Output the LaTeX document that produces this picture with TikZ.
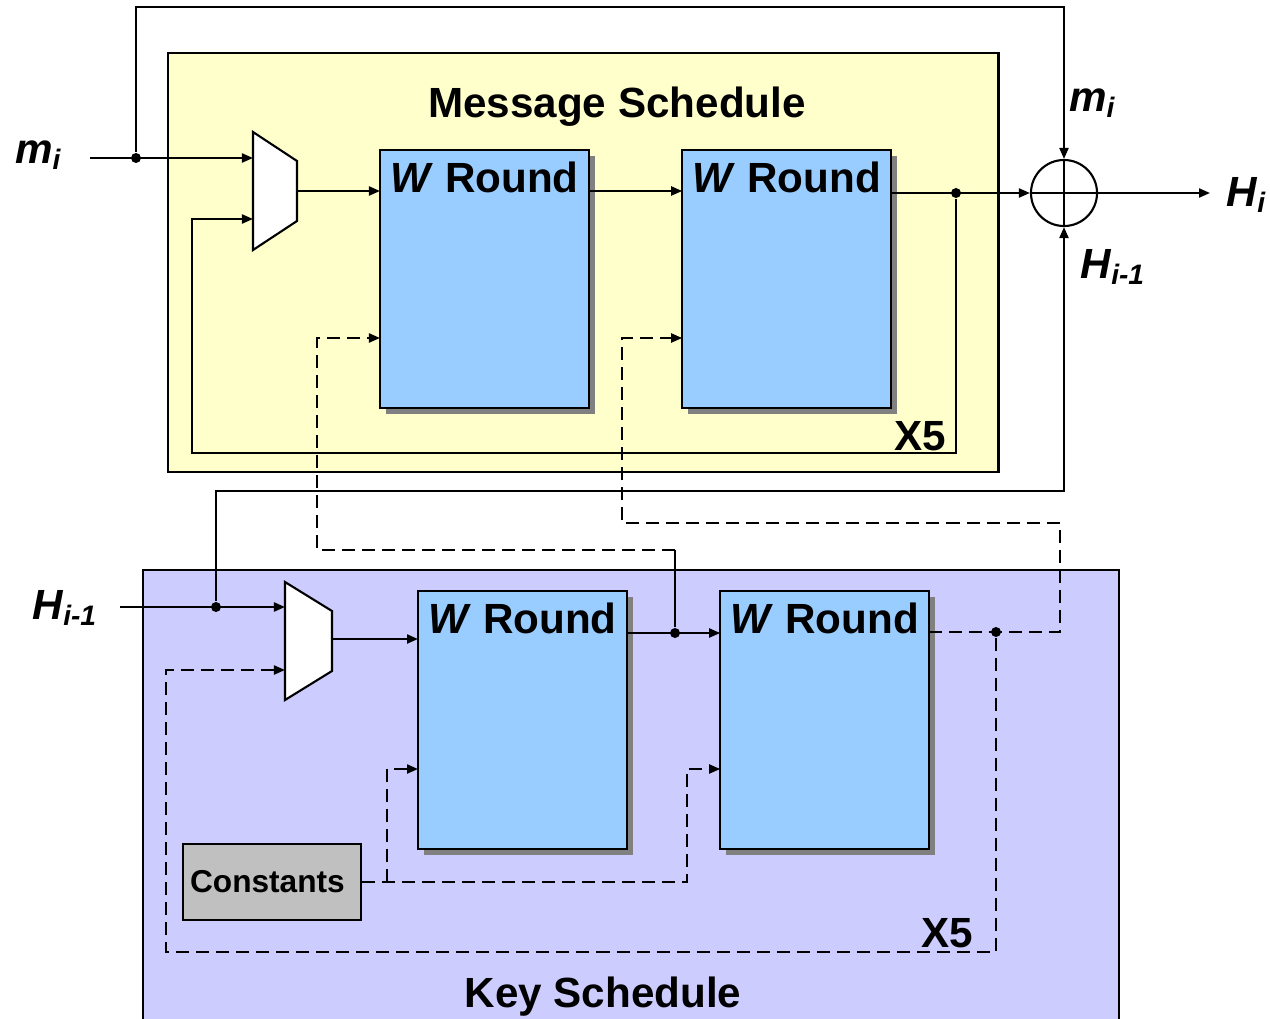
\documentclass[tikz,border=0pt]{standalone}
\usepackage{fontspec}
\setmainfont{Liberation Sans}
\usepackage{tikz}
\usetikzlibrary{positioning}
\usetikzlibrary{shadows,arrows.meta}

\definecolor{schedyellow}{HTML}{FFFFCC}
\definecolor{keyblue}{HTML}{CCCCFF}
\definecolor{roundblue}{HTML}{99CCFF}
\definecolor{constgray}{HTML}{C0C0C0}

\newcommand{\sigl}[2]{\textit{#1}\textsubscript{\textit{#2}}}

\begin{document}
\begin{tikzpicture}[x = 0.01cm, y = -0.01cm, line width = 0.6pt,
                    > = {Triangle[length = 0.11cm, width = 0.09cm]},
                    heading/.style = {anchor = base,
                                      inner sep = 0pt,
                                      font = \fontsize{12}{14}\selectfont\bfseries},
                    lbl/.style     = {heading,
                                      anchor = base west},
                    sched/.style   = {rectangle,
                                      draw,
                                      anchor = north west,
                                      inner sep = 0pt},
                    rnd/.style     = {rectangle,
                                      draw,
                                      anchor = north west,
                                      outer sep = 0pt,
                                      fill = roundblue,
                                      minimum width = 2.09cm,
                                      minimum height = 2.58cm,
                                      drop shadow = {shadow xshift = 0.06cm,
                                                     shadow yshift = -0.06cm,
                                                     fill = black!50,
                                                     opacity = 1},
                                      label = {[heading, yshift = -0.42cm]north:{\textit{W} Round}}},
                    constbox/.style = {rectangle,
                                      draw,
                                      anchor = north west,
                                      fill = constgray,
                                      text width = 1.64cm,
                                      align = left,
                                      inner xsep = 0.07cm,
                                      minimum height = 0.76cm,
                                      font = \fontsize{9}{11}\selectfont\bfseries},
                    xorgate/.style = {circle,
                                      draw,
                                      fill = white,
                                      inner sep = 0pt,
                                      minimum size = 0.66cm},
                    dot/.style     = {circle,
                                      fill,
                                      inner sep = 0pt,
                                      minimum size = 0.1cm},
                    kdash/.style   = {dash pattern = on 0.13cm off 0.07cm}]

\useasboundingbox (0,0) rectangle (1270,1018);

% schedules
\node[sched, fill = schedyellow, minimum width = 8.3cm, minimum height = 4.19cm] (ms) at (167,52) {};
\node[sched, fill = keyblue, minimum width = 9.75cm, minimum height = 4.8cm] (ks) at (142,569) {};
\node[heading] (ms-title) at (617,117) {Message Schedule};
\node[heading] (ks-title) at (603,1007) {Key Schedule};
\node[heading] (x5a) at (920,450) {X5};
\node[heading] (x5b) at (947,947) {X5};

% rounds
\node[rnd] (w1) at (380,150) {};
\node[rnd] (w2) [right = 0.93cm of w1] {};
\node[rnd] (w3) at (418,591) {};
\node[rnd] (w4) [right = 0.93cm of w3] {};

\node[constbox] (const) at (182,843) {Constants};

% multiplexers
\draw[fill = white] (253,132) -- (297,161) -- (297,221) -- (253,250) -- cycle;
\coordinate (mux1-in1) at (253,158);
\coordinate (mux1-in2) at (253,219);
\coordinate (mux1-out) at (297,191);

\draw[fill = white] (285,582) -- (332,611) -- (332,671) -- (285,700) -- cycle;
\coordinate (mux2-in1) at (285,607);
\coordinate (mux2-in2) at (285,670);
\coordinate (mux2-out) at (332,639);

\node[xorgate] (xor) at (1064,193) {};
\draw (xor.north) -- (xor.south) (xor.west) -- (xor.east);

% message path
\coordinate (mi-in) at (90,158);
\coordinate (top) at (0,7);
\coordinate (hi-out) at (1210,193);
\coordinate (fb1) at (192,453);
\draw[->] (mi-in) -- (mux1-in1);
\node[dot] (d1) at (136,158) {};
\draw[->] (d1) -- (d1 |- top) -| (xor.north);
\draw[->] (mux1-out) -- (mux1-out -| w1.west);
\draw[->] (w1.east |- mux1-out) -- (w2.west |- mux1-out);
\draw[->] (w2.east |- xor) -- (xor.west);
\node[dot] (d2) at (956,193) {};
\draw[->] (d2) |- (fb1) |- (mux1-in2);
\draw[->] (xor.east) -- (hi-out);

% key path
\coordinate (hin) at (120,607);
\coordinate (hy) at (0,491);
\coordinate (k0) at (0,633);
\coordinate (k1a) at (675,550);
\coordinate (k1b) at (317,338);
\coordinate (k2a) at (1060,523);
\coordinate (k2b) at (622,338);
\coordinate (fb2) at (166,952);
\coordinate (c1) at (387,769);
\coordinate (c2) at (687,769);
\draw[->] (hin) -- (mux2-in1);
\node[dot] (d3) at (216,607) {};
\draw[->] (d3) -- (d3 |- hy) -| (xor.south);
\draw[->] (mux2-out) -- (mux2-out -| w3.west);
\draw[->] (w3.east |- k0) -- (w4.west |- k0);
\node[dot] (d4) at (675,633) {};
\draw (d4) -- (k1a);
\draw[kdash, ->] (k1a) -| (k1b) -- (k1b -| w1.west);
\node[dot] (d5) at (996,632) {};
\draw[kdash, ->] (w4.east |- d5) -| (k2a) -| (k2b) -- (k2b -| w2.west);
\draw[kdash, ->] (d5) |- (fb2) |- (mux2-in2);
\draw[kdash, ->] (const.east) -| (c2) -- (c2 -| w4.west);
\draw[kdash, ->] (const.east -| c1) -- (c1) -- (c1 -| w3.west);

% labels
\node[lbl] (mi-lbl) at (14,163) {\sigl{m}{i}};
\node[lbl] (mi-top) at (1068,111) {\sigl{m}{i}};
\node[lbl] (hi-lbl) at (1225,206) {\sigl{H}{i}};
\node[lbl] (hp-top) at (1079,278) {\sigl{H}{i-1}};
\node[lbl] (hp-lbl) at (31,619) {\sigl{H}{i-1}};

\end{tikzpicture}
\end{document}
